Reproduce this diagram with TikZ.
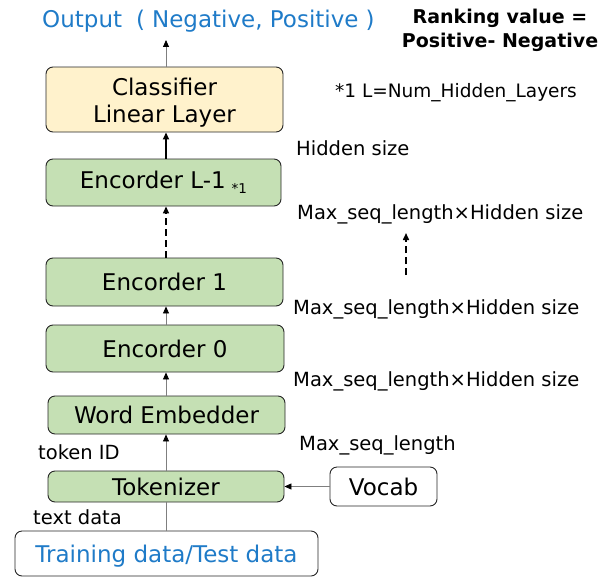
\documentclass[tikz,border=0pt]{standalone}
\usepackage{fontspec}
\setmainfont{DejaVu Sans}
\usetikzlibrary{arrows.meta}
\definecolor{boxgreen}{HTML}{C5E0B4}
\definecolor{boxyellow}{HTML}{FFF2CC}
\definecolor{textblue}{HTML}{1F7BC8}
\definecolor{edge}{HTML}{262626}
\definecolor{wire}{HTML}{7F7F7F}
\tikzset{
  block/.style={draw=edge, line width=0.9pt, rounded corners=7pt, fill=boxgreen,
    inner sep=0pt, align=center, font=\fontsize{23}{27}\selectfont},
  yblock/.style={block, fill=boxyellow},
  wblock/.style={block, fill=white},
  lbl/.style={anchor=west, inner sep=0pt, font=\fontsize{19.5}{22}\selectfont},
  flow/.style={draw=wire, line width=0.8pt, -{Triangle[length=7pt,width=6pt,color=black,fill=black]}},
  boldflow/.style={draw=black, line width=1.6pt, -{Triangle[length=7pt,width=6pt]}},
  dashflow/.style={draw=black, line width=1.5pt, dash pattern=on 7pt off 4pt, -{Triangle[length=7pt,width=6pt]}},
}
\begin{document}
\begin{tikzpicture}[x=1pt,y=-1pt]
\useasboundingbox (0,0) rectangle (607,578);

% processing blocks
\node[yblock, minimum width=237pt, minimum height=65pt] (cls) at (164.5,99.5)
  {\rule{0pt}{23pt}Classifier\\Linear Layer};
\node[block, minimum width=235pt, minimum height=47pt] (encL) at (163.5,182.5)
  {Encorder L-1\hspace{6pt}\raisebox{-5pt}{\fontsize{13.5}{13.5}\selectfont *1}};
\node[block, minimum width=237pt, minimum height=48pt] (enc1) at (164.5,282) {Encorder 1};
\node[block, minimum width=238pt, minimum height=47pt] (enc0) at (165,348.5) {Encorder 0};
\node[block, minimum width=237pt, minimum height=38pt] (emb) at (166.5,415) {Word Embedder};
\node[block, minimum width=236pt, minimum height=31pt] (tok) at (166,486.5) {Tokenizer};
\node[wblock, minimum width=107pt, minimum height=39pt] (vocab) at (383.5,486.5) {Vocab};
\node[wblock, minimum width=303pt, minimum height=45pt, text=textblue] (train) at (166.5,553.5)
  {\rule{0pt}{23pt}Training data/Test data};

% output and notes
\node[anchor=west, inner sep=0pt, text=textblue, font=\fontsize{23}{27}\selectfont] (out) at (42,21)
  {Output\hspace{14pt}(\hspace{7pt}Negative, Positive\hspace{7pt})};
\node[align=center, inner sep=0pt, font=\fontsize{19}{24}\selectfont\bfseries] (rank) at (500,30)
  {Ranking value =\\Positive- Negative};
\node[lbl, font=\fontsize{18.5}{21}\selectfont] (note) at (335,93) {*1 L=Num\_Hidden\_Layers};

% tensor shapes
\node[lbl] (sHid) at (296,148) {Hidden size};
\node[lbl] (sL) at (297,214) {Max\_seq\_length×Hidden size};
\node[lbl] (s1) at (293,309) {Max\_seq\_length×Hidden size};
\node[lbl] (s0) at (293,381) {Max\_seq\_length×Hidden size};
\node[lbl] (sEmb) at (299,445) {Max\_seq\_length};
\node[lbl] (tokid) at (38,452) {token ID};
\node[lbl] (txt) at (33,517) {text data};

% connectors
\coordinate (outIn) at (166,40);
\draw[flow] (cls.north -| outIn) -- (outIn);
\draw[boldflow] (encL.north -| outIn) -- (cls.south -| outIn);
\draw[dashflow] (enc1.north -| outIn) -- (encL.south -| outIn);
\draw[flow] (enc0.north -| outIn) -- (enc1.south -| outIn);
\draw[flow] (emb.north -| outIn) -- (enc0.south -| outIn);
\draw[flow] (tok.north -| outIn) -- (emb.south -| outIn);
\draw[draw=wire, line width=0.8pt] (train.north -| outIn) -- (tok.south -| outIn);
\draw[flow] (vocab.west) -- (tok.east);

% continuation marker beside the encoder stack
\coordinate (dashLow) at (406,275);
\coordinate (dashHigh) at (406,233);
\draw[dashflow] (dashLow) -- (dashHigh);
\end{tikzpicture}
\end{document}
